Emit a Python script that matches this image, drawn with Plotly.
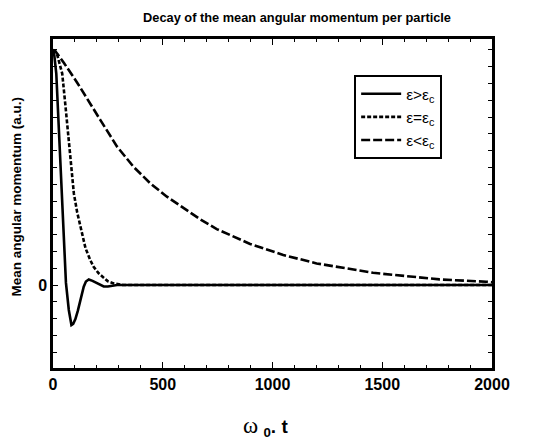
import plotly.graph_objects as go

# ---- data ----
t_above = [0, 5, 15, 22, 32, 41, 48, 52, 59, 72, 84, 92, 102, 113, 125, 140, 150,
           163, 180, 201, 215, 231, 250, 269, 292, 400, 800, 1200, 1600, 2000]
L_above = [1.0, 0.985, 0.9, 0.76, 0.53, 0.39, 0.248, 0.106, 0.009, -0.106, -0.17,
           -0.165, -0.145, -0.11, -0.064, -0.007, 0.015, 0.024, 0.018, 0.007, 0.0,
           -0.006, -0.006, -0.004, 0.0, 0.0, 0.0, 0.0, 0.0, 0.0]

t_equal = [0, 10, 19, 25, 42, 57, 72, 83, 95, 110, 125, 148, 170, 185, 208, 231,
           250, 276, 320, 600, 1000, 1500, 2000]
L_equal = [1.0, 0.995, 0.98, 0.96, 0.9, 0.76, 0.617, 0.489, 0.39, 0.31, 0.248,
           0.157, 0.106, 0.078, 0.05, 0.029, 0.016, 0.007, 0.0, 0.0, 0.0, 0.0, 0.0]

t_below = [0, 11, 50, 111, 216, 292, 367, 443, 519, 600, 670, 746, 852, 898, 1049,
           1201, 1337, 1458, 1610, 1761, 1974, 2000]
L_below = [1.0, 0.995, 0.945, 0.86, 0.702, 0.589, 0.503, 0.433, 0.376, 0.323,
           0.28, 0.238, 0.192, 0.175, 0.128, 0.092, 0.071, 0.052, 0.038, 0.024,
           0.014, 0.012]

series_names = ["ε>ε<sub>c</sub>", "ε=ε<sub>c</sub>", "ε<ε<sub>c</sub>"]

x_tickvals = [0, 500, 1000, 1500, 2000]
x_ticktext = ["0", "500", "1000", "1500", "2000"]

y_tickvals = [0]
y_ticktext = ["0"]
y_minor_step = 0.0715
y_minor_vals = [round(k * y_minor_step, 4) for k in range(-4, 15) if k != 0]

# ---- figure ----
FONT = "Liberation Sans, Arial, sans-serif"
fig = go.Figure()
fig.add_trace(go.Scatter(x=t_above, y=L_above, mode="lines", name=series_names[0],
                         line=dict(color="black", width=2.6, dash="solid")))
fig.add_trace(go.Scatter(x=t_equal, y=L_equal, mode="lines", name=series_names[1],
                         line=dict(color="black", width=2.6, dash="4px,2px")))
fig.add_trace(go.Scatter(x=t_below, y=L_below, mode="lines", name=series_names[2],
                         line=dict(color="black", width=2.6, dash="9px,3px")))

fig.update_layout(
    width=546, height=440,
    margin=dict(l=52.5, r=54, t=39, b=72),
    paper_bgcolor="white", plot_bgcolor="white",
    font=dict(family=FONT, color="black"),
    title=dict(text="Decay of the mean angular momentum per particle",
               x=0.544, xanchor="center", y=0.961, yanchor="middle",
               font=dict(family=FONT, size=12.8, weight="bold", color="black")),
    showlegend=True,
    legend=dict(x=0.686, y=0.89, xanchor="left", yanchor="top",
                bordercolor="black", borderwidth=2, bgcolor="white",
                font=dict(family=FONT, size=15.5),
                tracegroupgap=0, itemwidth=40),
    xaxis=dict(range=[0, 2000], tickmode="array", tickvals=x_tickvals,
               ticktext=x_ticktext, ticks="inside", ticklen=6, tickwidth=1.2,
               tickcolor="black", showline=True, linewidth=2.5, linecolor="black",
               mirror="ticks", showgrid=False, zeroline=False,
               tickfont=dict(family=FONT, size=16, weight="bold"),
               minor=dict(dtick=100, ticks="inside", ticklen=3, tickcolor="black",
                          showgrid=False)),
    yaxis=dict(range=[-0.353, 1.047], tickmode="array", tickvals=y_tickvals,
               ticktext=y_ticktext, ticks="inside", ticklen=5, tickwidth=1.2,
               tickcolor="black", showline=True, linewidth=2.5, linecolor="black",
               mirror="ticks", showgrid=False, zeroline=False,
               tickfont=dict(family=FONT, size=16, weight="bold"),
               minor=dict(tickmode="array", tickvals=y_minor_vals, ticks="inside",
                          ticklen=4, tickcolor="black", showgrid=False)),
    annotations=[
        dict(text="Mean angular momentum (a.u.)", xref="paper", yref="paper",
             x=-0.083, y=0.52, xanchor="center", yanchor="middle", textangle=-90,
             showarrow=False, font=dict(family=FONT, size=13.5, weight="bold")),
        dict(text="<span style='font-family:Liberation Serif, Times New Roman, serif; font-weight:normal; font-size:23px'>ω</span> <sub>0</sub>. t",
             xref="paper", yref="paper", x=0.483, y=-0.178, xanchor="center",
             yanchor="middle", showarrow=False,
             font=dict(family=FONT, size=19, weight="bold")),
    ],
)

fig.write_html("out.html", config={"displayModeBar": False},
               post_script="document.body.style.margin='0';")
